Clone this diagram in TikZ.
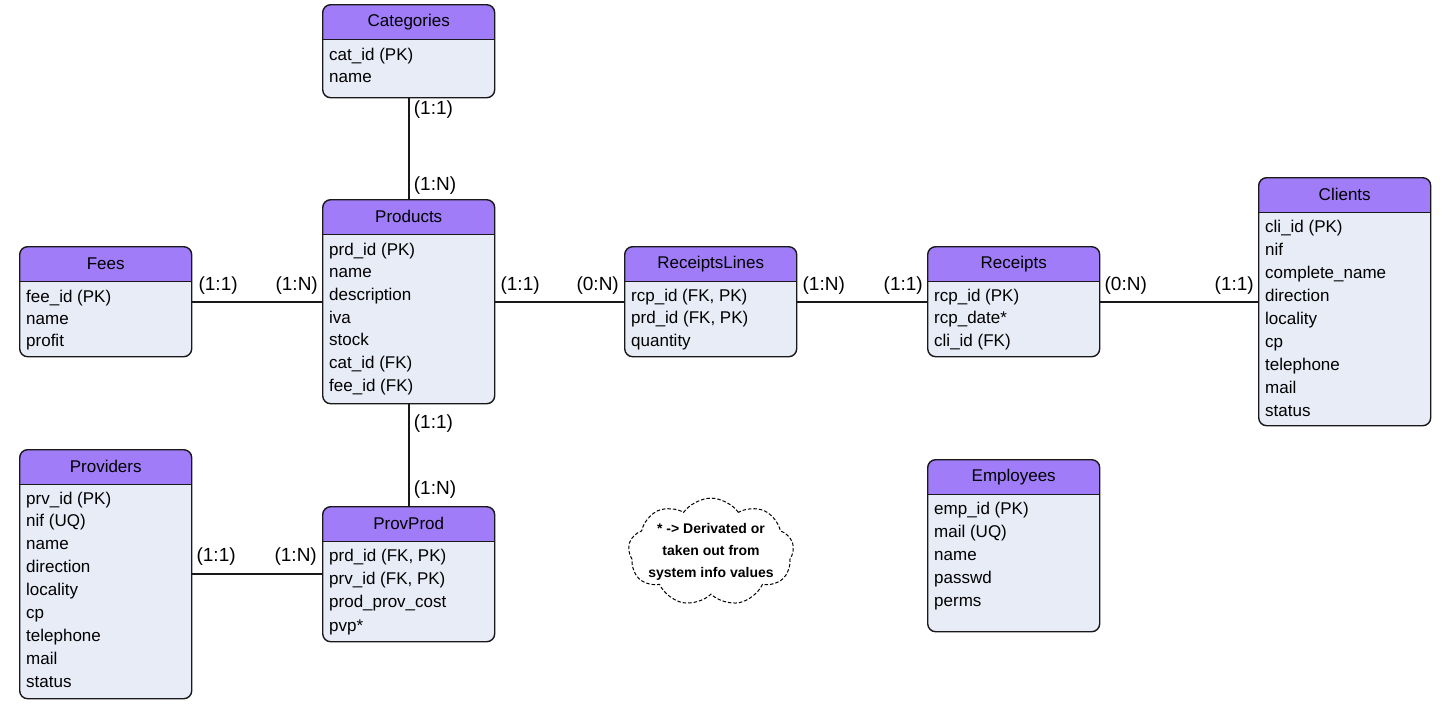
\documentclass[tikz,border=0pt]{standalone}
\usepackage{fontspec}
\setmainfont{Liberation Sans}
\usetikzlibrary{positioning,shapes.symbols}
\definecolor{headpurple}{HTML}{A07CF9}
\definecolor{bodyblue}{HTML}{E8ECF7}

\begin{document}
\begin{tikzpicture}[x=1pt,y=-1pt,font=\fontsize{17}{20}\selectfont]
    \tikzstyle{entity}=[draw=black!90,line width=1.4pt,fill=bodyblue,rounded corners=8pt,anchor=north west,minimum width=172pt,inner sep=0pt,
        path picture={\fill[headpurple,sharp corners] (path picture bounding box.north west) rectangle ([yshift=-35pt]path picture bounding box.north east);
                      \draw[line width=1.4pt,sharp corners] ([yshift=-35pt]path picture bounding box.north west) -- ([yshift=-35pt]path picture bounding box.north east);}]
    \tikzstyle{title}=[minimum height=35pt,inner sep=0pt]
    \tikzstyle{field}=[anchor=west,inner sep=0pt,text height=12pt,text depth=4pt]
    \tikzstyle{conn}=[draw=black!90,line width=2.2pt]
    \tikzstyle{card}=[inner sep=4pt,font=\fontsize{19}{22}\selectfont]
    \tikzstyle{note}=[cloud,cloud puffs=9,cloud puff arc=110,aspect=1.9,draw,dash pattern=on 3.5pt off 2pt,fill=white,line width=1pt,inner xsep=-6pt,inner ysep=-12pt,align=center,font=\bfseries\fontsize{14}{22}\selectfont]

    \useasboundingbox (0,0) rectangle (1445,705);

    % Draw the entities
    \node[entity,minimum height=93pt] (cat) at (322,4) {};
    \node[title,below=0pt of cat.north] (cat-t) {Categories};
    \foreach \txt [count=\i] in {cat\_id (PK),name}
        \node[field] (cat-\i) at (329,56+22.7*\i-22.7) {\txt};

    \node[entity,minimum height=204pt] (prd) at (322,199) {};
    \node[title,below=0pt of prd.north] (prd-t) {Products};
    \foreach \txt [count=\i] in {prd\_id (PK),name,description,iva,stock,cat\_id (FK),fee\_id (FK)}
        \node[field] (prd-\i) at (329,251+22.7*\i-22.7) {\txt};

    \node[entity,minimum height=110pt] (fee) at (19,246) {};
    \node[title,below=0pt of fee.north] (fee-t) {Fees};
    \foreach \txt [count=\i] in {fee\_id (PK),name,profit}
        \node[field] (fee-\i) at (26,298+22*\i-22) {\txt};

    \node[entity,minimum height=249pt] (prv) at (19,449) {};
    \node[title,below=0pt of prv.north] (prv-t) {Providers};
    \foreach \txt [count=\i] in {prv\_id (PK),nif (UQ),name,direction,locality,cp,telephone,mail,status}
        \node[field] (prv-\i) at (26,500+22.9*\i-22.9) {\txt};

    \node[entity,minimum height=135pt] (pp) at (322,506) {};
    \node[title,below=0pt of pp.north] (pp-t) {ProvProd};
    \foreach \txt [count=\i] in {{prd\_id (FK, PK)},{prv\_id (FK, PK)},prod\_prov\_cost,pvp*}
        \node[field] (pp-\i) at (329,557+23.4*\i-23.4) {\txt};

    \node[entity,minimum height=110pt] (rl) at (624,246) {};
    \node[title,below=0pt of rl.north] (rl-t) {ReceiptsLines};
    \foreach \txt [count=\i] in {{rcp\_id (FK, PK)},{prd\_id (FK, PK)},quantity}
        \node[field] (rl-\i) at (631,297+22.5*\i-22.5) {\txt};

    \node[entity,minimum height=110pt] (rcp) at (927,246) {};
    \node[title,below=0pt of rcp.north] (rcp-t) {Receipts};
    \foreach \txt [count=\i] in {rcp\_id (PK),rcp\_date*,cli\_id (FK)}
        \node[field] (rcp-\i) at (934,297+22.5*\i-22.5) {\txt};

    \node[entity,minimum height=248pt] (cli) at (1258,177) {};
    \node[title,below=0pt of cli.north] (cli-t) {Clients};
    \foreach \txt [count=\i] in {cli\_id (PK),nif,complete\_name,direction,locality,cp,telephone,mail,status}
        \node[field] (cli-\i) at (1265,228+23*\i-23) {\txt};

    \node[entity,minimum height=172pt] (emp) at (927,459) {};
    \node[title,below=0pt of emp.north] (emp-t) {Employees};
    \foreach \txt [count=\i] in {emp\_id (PK),mail (UQ),name,passwd,perms}
        \node[field] (emp-\i) at (934,510+23*\i-23) {\txt};

    % Connect the entities
    \draw[conn] (cat) -- (prd);
    \draw[conn] (fee) -- (prd);
    \draw[conn] (prd) -- (rl);
    \draw[conn] (rl) -- (rcp);
    \draw[conn] (rcp) -- (cli);
    \draw[conn] (prd) -- (pp);
    \draw[conn] (prv) -- (pp);

    % Cardinalities
    \node[card,below right=-2pt and 1pt of cat.south] (c1) {(1:1)};
    \node[card,above right=0pt and 1pt of prd.north] (c2) {(1:N)};
    \node[card,above right=3pt and 2pt of fee.east] (c3) {(1:1)};
    \node[card,above left=3pt and 0pt of prd.west] (c4) {(1:N)};
    \node[card,above right=3pt and 1pt of prd.east] (c5) {(1:1)};
    \node[card,above left=3pt and 1pt of rl.west] (c6) {(0:N)};
    \node[card,above right=3pt and 1pt of rl.east] (c7) {(1:N)};
    \node[card,above left=3pt and 0pt of rcp.west] (c8) {(1:1)};
    \node[card,above right=3pt and 0pt of rcp.east] (c9) {(0:N)};
    \node[card,above left=3pt and 0pt of cli.west] (c10) {(1:1)};
    \node[card,below right=6pt and 1pt of prd.south] (c11) {(1:1)};
    \node[card,above right=3pt and 1pt of pp.north] (c12) {(1:N)};
    \node[card,above right=5pt and 0pt of prv.east] (c13) {(1:1)};
    \node[card,above left=5pt and 1pt of pp.west] (c14) {(1:N)};

    % Note
    \node[note] (note) at (711,552) {* -> Derivated or\\taken out from\\system info values};
\end{tikzpicture}
\end{document}
